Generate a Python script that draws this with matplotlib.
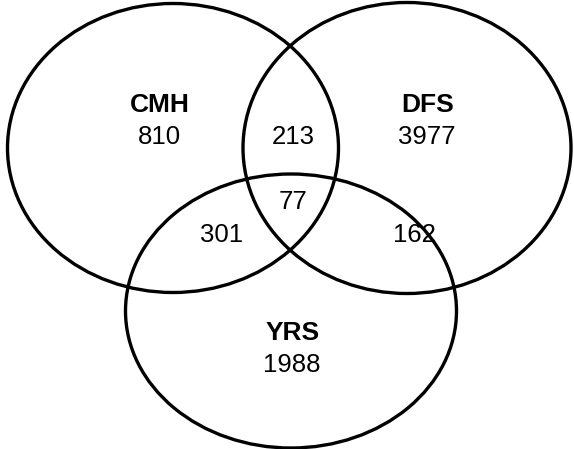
import matplotlib
matplotlib.use("Agg")
import matplotlib.pyplot as plt
from matplotlib.patches import Ellipse

plt.rcParams['font.family'] = ['Liberation Sans', 'DejaVu Sans']

# set names and region counts
set_names = ["CMH", "DFS", "YRS"]
set_only = [810, 3977, 1988]
pair_labels = ["CMH&DFS", "CMH&YRS", "DFS&YRS"]
pair_counts = [213, 301, 162]
all_three = 77

fig = plt.figure(figsize=(5.74, 4.49), dpi=100)
ax = fig.add_axes([0, 0, 1, 1])
ax.set_xlim(0, 574)
ax.set_ylim(449, 0)
ax.axis("off")

# ellipse centres/sizes in pixel space
shapes = [((173, 148), 331, 289), ((407, 148), 328, 291), ((291, 311), 331, 274)]
for (c, w, h) in shapes:
    ax.add_patch(Ellipse(c, w, h, fill=False, edgecolor="black", linewidth=2.4))

fs = 18.5
name_pos = [(160, 105), (428, 105), (293, 333)]
for name, n, (x, y) in zip(set_names, set_only, name_pos):
    ax.text(x, y, name, ha="center", va="center", fontsize=fs + 0.5, fontweight="bold")
    ax.text(x - 1, y + 32, str(n), ha="center", va="center", fontsize=fs)

pair_pos = [(293, 137), (222, 235), (414, 235)]
for n, (x, y) in zip(pair_counts, pair_pos):
    ax.text(x, y, str(n), ha="center", va="center", fontsize=fs)

ax.text(293, 202, str(all_three), ha="center", va="center", fontsize=fs)

fig.savefig("out.png", dpi=100, facecolor="white")
